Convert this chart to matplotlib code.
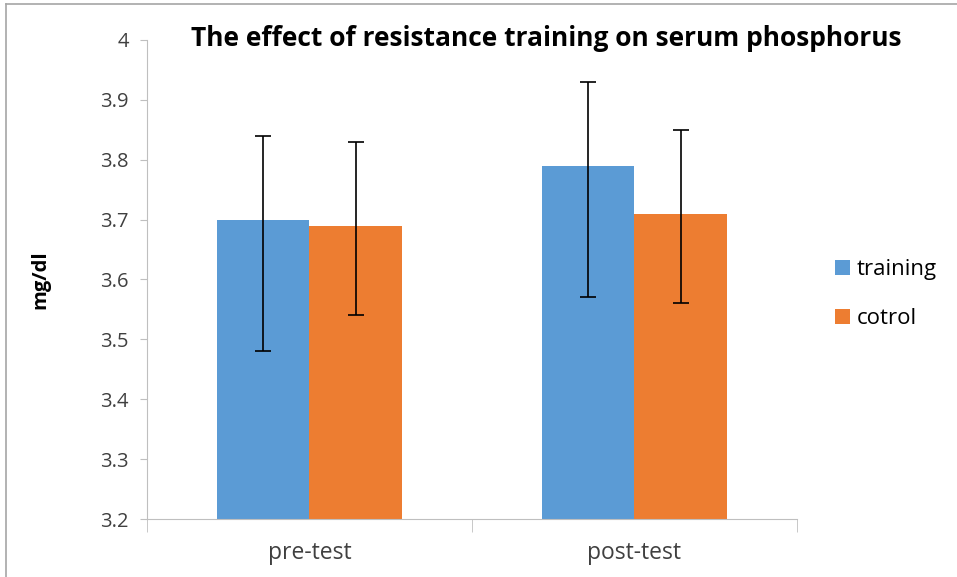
import matplotlib
matplotlib.use("Agg")
import matplotlib.pyplot as plt
import numpy as np
from matplotlib.lines import Line2D
from matplotlib.patches import Patch

# data
categories = ["pre-test", "post-test"]
series_names = ["training", "cotrol"]
training = [3.70, 3.79]
cotrol = [3.69, 3.71]
training_err_low = [0.22, 0.22]
training_err_high = [0.14, 0.14]
cotrol_err_low = [0.15, 0.15]
cotrol_err_high = [0.14, 0.14]
y_ticks = [3.2, 3.3, 3.4, 3.5, 3.6, 3.7, 3.8, 3.9, 4.0]
y_tick_labels = ["3.2", "3.3", "3.4", "3.5", "3.6", "3.7", "3.8", "3.9", "4"]

blue = "#5b9bd5"
orange = "#ed7d31"
axis_grey = "#bfbfbf"

plt.rcParams["font.family"] = ["Open Sans", "DejaVu Sans"]

fig = plt.figure(figsize=(9.57, 5.77), dpi=100)
ax = fig.add_axes([0.1536, 0.1005, 0.6792, 0.8302])

x = np.arange(len(categories))
w = 0.286
ax.bar(x - w / 2, training, w, color=blue, label=series_names[0],
       yerr=[training_err_low, training_err_high], capsize=6,
       error_kw=dict(elinewidth=1.2, capthick=1.2, ecolor="black"))
ax.bar(x + w / 2, cotrol, w, color=orange, label=series_names[1],
       yerr=[cotrol_err_low, cotrol_err_high], capsize=6,
       error_kw=dict(elinewidth=1.2, capthick=1.2, ecolor="black"))

ax.set_ylim(3.2, 4.0)
ax.set_xlim(-0.5, len(categories) - 0.5)
ax.set_yticks(y_ticks)
ax.set_yticklabels(y_tick_labels, fontsize=14.5, color="#404040")
ax.set_xticks(x)
ax.set_xticklabels(categories, fontsize=16.5, color="#404040")
ax.tick_params(axis="x", length=0, pad=16)
ax.tick_params(axis="y", length=5, color=axis_grey, pad=8)
# category boundary ticks on x axis
ax.set_xticks(np.arange(-0.5, len(categories), 1.0), minor=True)
ax.tick_params(axis="x", which="minor", length=9, color=axis_grey)

for s in ["top", "right"]:
    ax.spines[s].set_visible(False)
ax.spines["left"].set_color(axis_grey)
ax.spines["bottom"].set_color(axis_grey)

ax.set_ylabel("mg/dl", fontsize=14.5, fontweight="bold")
ax.yaxis.set_label_coords(-(147 - 50) / 650, 0.5)

fig.text(546 / 957, 1 - 38 / 577, "The effect of resistance training on serum phosphorus",
         ha="center", va="center", fontsize=19, fontweight="bold")

handles = [Patch(facecolor=blue), Patch(facecolor=orange)]
fig.legend(handles, series_names, loc="center left", bbox_to_anchor=(0.872, 0.49),
           frameon=False, fontsize=16, handlelength=0.7, handleheight=0.7,
           handletextpad=0.3, labelspacing=1.25, borderpad=0, borderaxespad=0)

# thin frame around the chart area
fig.add_artist(Line2D([6 / 957, 6 / 957], [0, 1 - 4 / 577], color="#a6a6a6", lw=1.2,
                      transform=fig.transFigure))
fig.add_artist(Line2D([6 / 957, 1], [1 - 4 / 577, 1 - 4 / 577], color="#a6a6a6", lw=1.2,
                      transform=fig.transFigure))

fig.savefig("out.png", dpi=100)
